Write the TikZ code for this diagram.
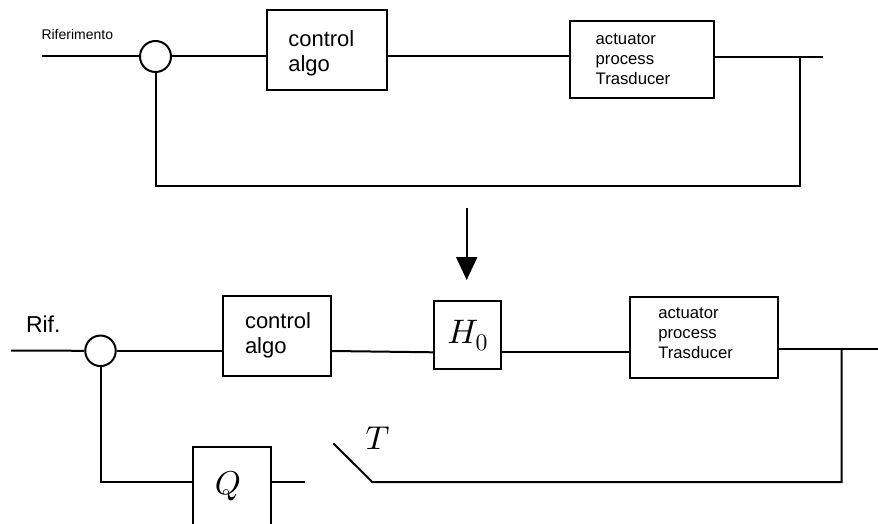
\documentclass[tikz,border=0pt]{standalone}
\usepackage[no-math]{fontspec}
\setmainfont{Liberation Sans}
% scalable Computer Modern for the large math labels
\DeclareFontShape{OML}{cmm}{m}{it}{<->cmmi10}{}
\DeclareFontShape{OT1}{cmr}{m}{n}{<->cmr10}{}
\usetikzlibrary{arrows.meta,calc}
% left-aligned block text of a fixed width, baseline on the last line
\newcommand\blocklines[2]{\makebox[#1][l]{\begin{tabular}[b]{@{}l@{}}#2\end{tabular}}}
\begin{document}
\begin{tikzpicture}[x=1pt,y=-1pt,line width=2pt,line join=miter,
  block/.style={draw,rectangle,inner sep=0pt,line width=2pt},
  sumnode/.style={draw,circle,inner sep=0pt,line width=2pt},
  bigtext/.style={font=\fontsize{22}{25}\selectfont},
  smalltext/.style={font=\fontsize{16.7}{20}\selectfont},
  mathbig/.style={font=\fontsize{33}{40}\selectfont},
]
\useasboundingbox (0,0) rectangle (878,524);
\clip (0,0) rectangle (878,524);

% ---------- continuous-time loop ----------
\node[anchor=base west,inner sep=0pt,font=\fontsize{14}{16}\selectfont] (rif1) at (40.5,40) {Riferimento};
\node[sumnode,minimum size=31pt] (s1) at (155.5,56.5) {};
\node[block,bigtext,minimum width=120pt,minimum height=79.4pt,text height=43.4pt,text depth=0pt]
  (c1) at (327,50) {\blocklines{77.4pt}{control\\algo}};
\node[block,smalltext,minimum width=143.7pt,minimum height=77.3pt,text height=50.7pt,text depth=0pt]
  (a1) at (642.15,59.65) {\blocklines{92.9pt}{actuator\\process\\Trasducer}};

\coordinate (in1) at (41.7,56.5);
\coordinate (out1) at (823,57.5);
\coordinate (t1) at (799.7,57.5);
\coordinate (b1) at (155.5,185.7);

\draw (in1) -- (s1.west);
\draw (s1.east) -- (s1.east -| c1.west);
\draw (c1.east |- s1) -- (a1.west |- s1);
\draw (a1.east |- out1) -- (out1);
\draw (t1) |- (b1) -- (s1.south);

% ---------- transformation arrow ----------
\coordinate (ar1) at (466.7,208);
\coordinate (ar2) at (466.7,280);
\draw[-{Triangle[width=21pt,length=23pt]}] (ar1) -- (ar2);

% ---------- sampled-data loop ----------
\node[anchor=base west,inner sep=0pt,font=\fontsize{23}{27}\selectfont] (rif2) at (25,332.3) {Rif.};
\node[sumnode,minimum size=30.5pt] (s2) at (100.5,350.8) {};
\node[block,bigtext,minimum width=107.7pt,minimum height=80pt,text height=35.2pt,text depth=0pt]
  (c2) at (276.85,335.7) {\blocklines{63.7pt}{control\\algo}};
\node[block,font=\fontsize{34}{40}\selectfont,minimum width=67pt,minimum height=68pt]
  (h) at (467.8,335) {$H_0$};
\node[block,smalltext,minimum width=148.6pt,minimum height=80.7pt,text height=41.9pt,text depth=0pt]
  (a2) at (704,337.35) {\blocklines{91.4pt}{actuator\\process\\Trasducer}};
\node[block,mathbig,minimum width=77.4pt,text height=47.3pt,text depth=33pt,anchor=north]
  (q) at (232,446) {\hspace*{-8pt}$Q$};
\node[mathbig,inner sep=0pt] (tl) at (377.5,438) {$T$};

\coordinate (in2) at (11,350.5);
\coordinate (l2a) at (0,351);
\coordinate (l2b) at (0,352.3);
\coordinate (out2) at (878,349.3);
\coordinate (t2) at (841.7,349.3);
\coordinate (sw) at (372.3,482);
\coordinate (swtop) at (333.3,443.3);
\coordinate (qout) at (305,482);

\draw (in2) -- (s2.west);
\draw (s2.east) -- (s2.east -| c2.west);
\draw (c2.east |- l2a) -- (h.west |- l2b);
\draw (h.east |- l2b) -- (a2.west |- l2b);
\draw (a2.east |- out2) -- (out2);
\draw (t2) |- (sw) -- (swtop);
\draw (q.east |- qout) -- (qout);
\draw (s2.south) |- (q.west |- qout);
\end{tikzpicture}
\end{document}
